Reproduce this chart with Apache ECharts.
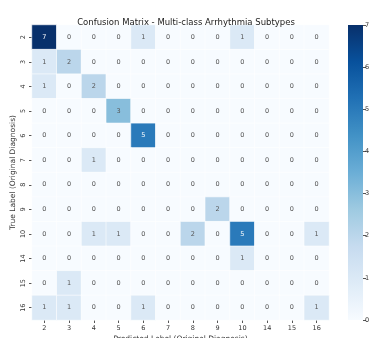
<!DOCTYPE html>
<html>
<head>
<meta charset="utf-8">
<script src="https://cdn.jsdelivr.net/npm/echarts@6/dist/echarts.min.js"></script>
<style>
  html, body { margin: 0; padding: 0; background: #fff; }
  #chart { width: 370px; height: 338px; }
</style>
</head>
<body>
<div id="chart"></div>
<script>
// class labels (original diagnosis codes)
var trueLabels = ["2", "3", "4", "5", "6", "7", "8", "9", "10", "14", "15", "16"];
var predLabels = ["2", "3", "4", "5", "6", "7", "8", "9", "10", "14", "15", "16"];

// confusion matrix rows = true label, cols = predicted
var matrix = [
    [7, 0, 0, 0, 1, 0, 0, 0, 1, 0, 0, 0],
    [1, 2, 0, 0, 0, 0, 0, 0, 0, 0, 0, 0],
    [1, 0, 2, 0, 0, 0, 0, 0, 0, 0, 0, 0],
    [0, 0, 0, 3, 0, 0, 0, 0, 0, 0, 0, 0],
    [0, 0, 0, 0, 5, 0, 0, 0, 0, 0, 0, 0],
    [0, 0, 1, 0, 0, 0, 0, 0, 0, 0, 0, 0],
    [0, 0, 0, 0, 0, 0, 0, 0, 0, 0, 0, 0],
    [0, 0, 0, 0, 0, 0, 0, 2, 0, 0, 0, 0],
    [0, 0, 1, 1, 0, 0, 2, 0, 5, 0, 0, 1],
    [0, 0, 0, 0, 0, 0, 0, 0, 1, 0, 0, 0],
    [0, 1, 0, 0, 0, 0, 0, 0, 0, 0, 0, 0],
    [1, 1, 0, 0, 1, 0, 0, 0, 0, 0, 0, 1]
];

var colorbarMax = [7];

// matplotlib "Blues"
var blues = ["#f7fbff", "#deebf7", "#c6dbef", "#9ecae1", "#6baed6",
             "#4292c6", "#2171b5", "#08519c", "#08306b"];

var cells = [];
for (var i = 0; i < matrix.length; i++) {
    for (var j = 0; j < matrix[i].length; j++) {
        cells.push({
            value: [j, i, matrix[i][j]],
            label: { color: matrix[i][j] >= 4 ? "#fff" : "#555" }
        });
    }
}

var font = "DejaVu Sans";
var chart = echarts.init(document.getElementById("chart"));

var gradStops = blues.map(function (c, k) {
    return { offset: 1 - k / (blues.length - 1), color: c };
});

chart.setOption({
    animation: false,
    textStyle: { fontFamily: font },
    title: {
        text: "Confusion Matrix - Multi-class Arrhythmia Subtypes",
        left: 181,
        textAlign: "center",
        top: 13,
        textStyle: { fontSize: 8.5, fontWeight: "normal", color: "#222", fontFamily: font }
    },
    grid: [
        { left: 32, top: 25, width: 297, height: 295, outerBoundsMode: "none", containLabel: false },
        { left: 348, top: 25, width: 15, height: 295, outerBoundsMode: "none", containLabel: false }
    ],
    xAxis: [
        {
            type: "category",
            data: predLabels,
            gridIndex: 0,
            name: "Predicted Label (Original Diagnosis)",
            nameLocation: "middle",
            nameGap: 15,
            nameMoveOverlap: false,
            nameTextStyle: { fontSize: 7.5, color: "#333", fontFamily: font },
            axisLine: { show: false },
            axisTick: { show: true, alignWithLabel: true, length: 3, lineStyle: { color: "#555" } },
            axisLabel: { fontSize: 6.5, color: "#333", margin: 5, fontFamily: font },
            splitLine: { show: false }
        },
        {
            type: "category",
            data: ["cb"],
            gridIndex: 1,
            show: false
        }
    ],
    yAxis: [
        {
            type: "category",
            data: trueLabels,
            gridIndex: 0,
            inverse: true,
            name: "True Label (Original Diagnosis)",
            nameLocation: "middle",
            nameGap: 15,
            nameMoveOverlap: false,
            nameTextStyle: { fontSize: 7.5, color: "#333", fontFamily: font },
            axisLine: { show: false },
            axisTick: { show: true, alignWithLabel: true, length: 3, lineStyle: { color: "#555" } },
            axisLabel: { fontSize: 6.5, color: "#333", rotate: 90, margin: 5, fontFamily: font },
            splitLine: { show: false }
        },
        {
            type: "value",
            gridIndex: 1,
            position: "right",
            min: 0,
            max: 7,
            interval: 1,
            axisLine: { show: false },
            axisTick: { show: true, length: 3, lineStyle: { color: "#555" } },
            axisLabel: { fontSize: 6.5, color: "#333", margin: 2, fontFamily: font },
            splitLine: { show: false }
        }
    ],
    visualMap: {
        show: false,
        seriesIndex: 0,
        min: 0,
        max: 7,
        dimension: 2,
        inRange: { color: blues }
    },
    series: [
        {
            type: "heatmap",
            xAxisIndex: 0,
            yAxisIndex: 0,
            data: cells,
            itemStyle: { borderColor: "#fff", borderWidth: 0.6 },
            label: {
                show: true,
                fontSize: 6.5,
                fontFamily: font,
                formatter: function (p) { return p.value[2]; }
            }
        },
        {
            type: "bar",
            xAxisIndex: 1,
            yAxisIndex: 1,
            data: colorbarMax,
            barWidth: "100%",
            silent: true,
            itemStyle: {
                color: new echarts.graphic.LinearGradient(0, 0, 0, 1, gradStops)
            }
        }
    ]
});
</script>
</body>
</html>
